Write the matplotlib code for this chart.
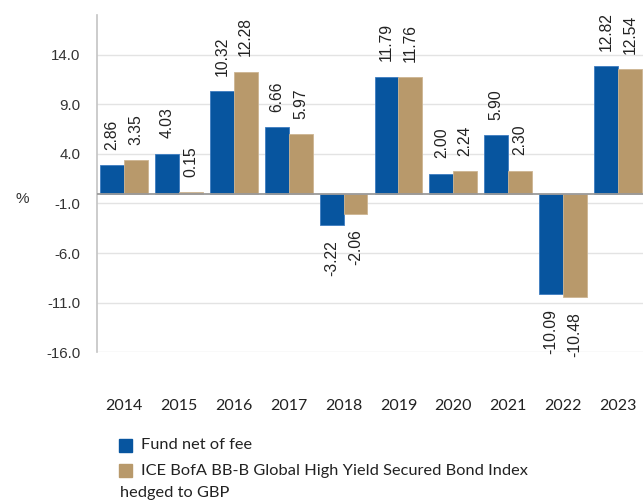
import numpy as np
import matplotlib.pyplot as plt
from matplotlib.patches import Rectangle

years = ["2014", "2015", "2016", "2017", "2018", "2019", "2020", "2021", "2022", "2023"]
fund = [2.86, 4.03, 10.32, 6.66, -3.22, 11.79, 2.00, 5.90, -10.09, 12.82]
index = [3.35, 0.15, 12.28, 5.97, -2.06, 11.76, 2.24, 2.30, -10.48, 12.54]
yticks = [14.0, 9.0, 4.0, -1.0, -6.0, -11.0, -16.0]

legend_labels = ["Fund net of fee",
                 "ICE BofA BB-B Global High Yield Secured Bond Index",
                 "hedged to GBP"]

BLUE = "#07559f"
TAN = "#b8996b"

plt.rcParams["font.family"] = ["Liberation Sans", "DejaVu Sans"]

fig = plt.figure(figsize=(6.43, 5.01), dpi=100)
ax = fig.add_axes([0.151, 0.297, 0.857, 0.673])

x = np.arange(len(years))
w = 0.435
b1 = ax.bar(x - w / 2, fund, w, color=BLUE, edgecolor="#3d7cc0", linewidth=0.6, zorder=3)
b2 = ax.bar(x + w / 2, index, w, color=TAN, edgecolor="#cdb592", linewidth=0.6, zorder=3)

for bars in (b1, b2):
    ax.bar_label(bars, fmt="%.2f", rotation=90, padding=11, fontsize=11.3, color="#222222")

ax.set_ylim(-16, 18)
ax.set_xlim(-0.49, 9.55)
ax.set_yticks(yticks)
ax.set_yticklabels([f"{v:.1f}" for v in yticks], fontsize=10.8, color="#333333")
ax.yaxis.grid(True, color="#e3e3e3", linewidth=1, zorder=0)
ax.axhline(0, color="#9a9a9a", linewidth=1.3, zorder=4)

ax.set_xticks(x)
ax.set_xticklabels(years, fontsize=11.5, family=["Lato", "DejaVu Sans"], color="#222222")
ax.tick_params(axis="x", length=0, pad=34)
ax.tick_params(axis="y", length=0, pad=12)

for side in ("top", "right", "bottom"):
    ax.spines[side].set_visible(False)
ax.spines["left"].set_color("#c4c4c4")
ax.spines["left"].set_linewidth(1.2)

fig.text(15 / 643, 1 - 199 / 501, "%", fontsize=11, color="#333333", ha="left", va="center")

# legend drawn by hand so the long label can wrap under its marker
sq_w, sq_h = 13 / 643, 13 / 501
fig.add_artist(Rectangle((119 / 643, 1 - 452 / 501), sq_w, sq_h, color=BLUE, transform=fig.transFigure))
fig.add_artist(Rectangle((119 / 643, 1 - 477 / 501), sq_w, sq_h, color=TAN, transform=fig.transFigure))
leg_font = dict(fontsize=11.8, family=["Lato", "DejaVu Sans"], color="#222222", va="center")
fig.text(141 / 643, 1 - 445 / 501, legend_labels[0], **leg_font)
fig.text(141 / 643, 1 - 471 / 501, legend_labels[1], **leg_font)
fig.text(120 / 643, 1 - 493 / 501, legend_labels[2], **leg_font)

fig.savefig("out.png", dpi=100)
